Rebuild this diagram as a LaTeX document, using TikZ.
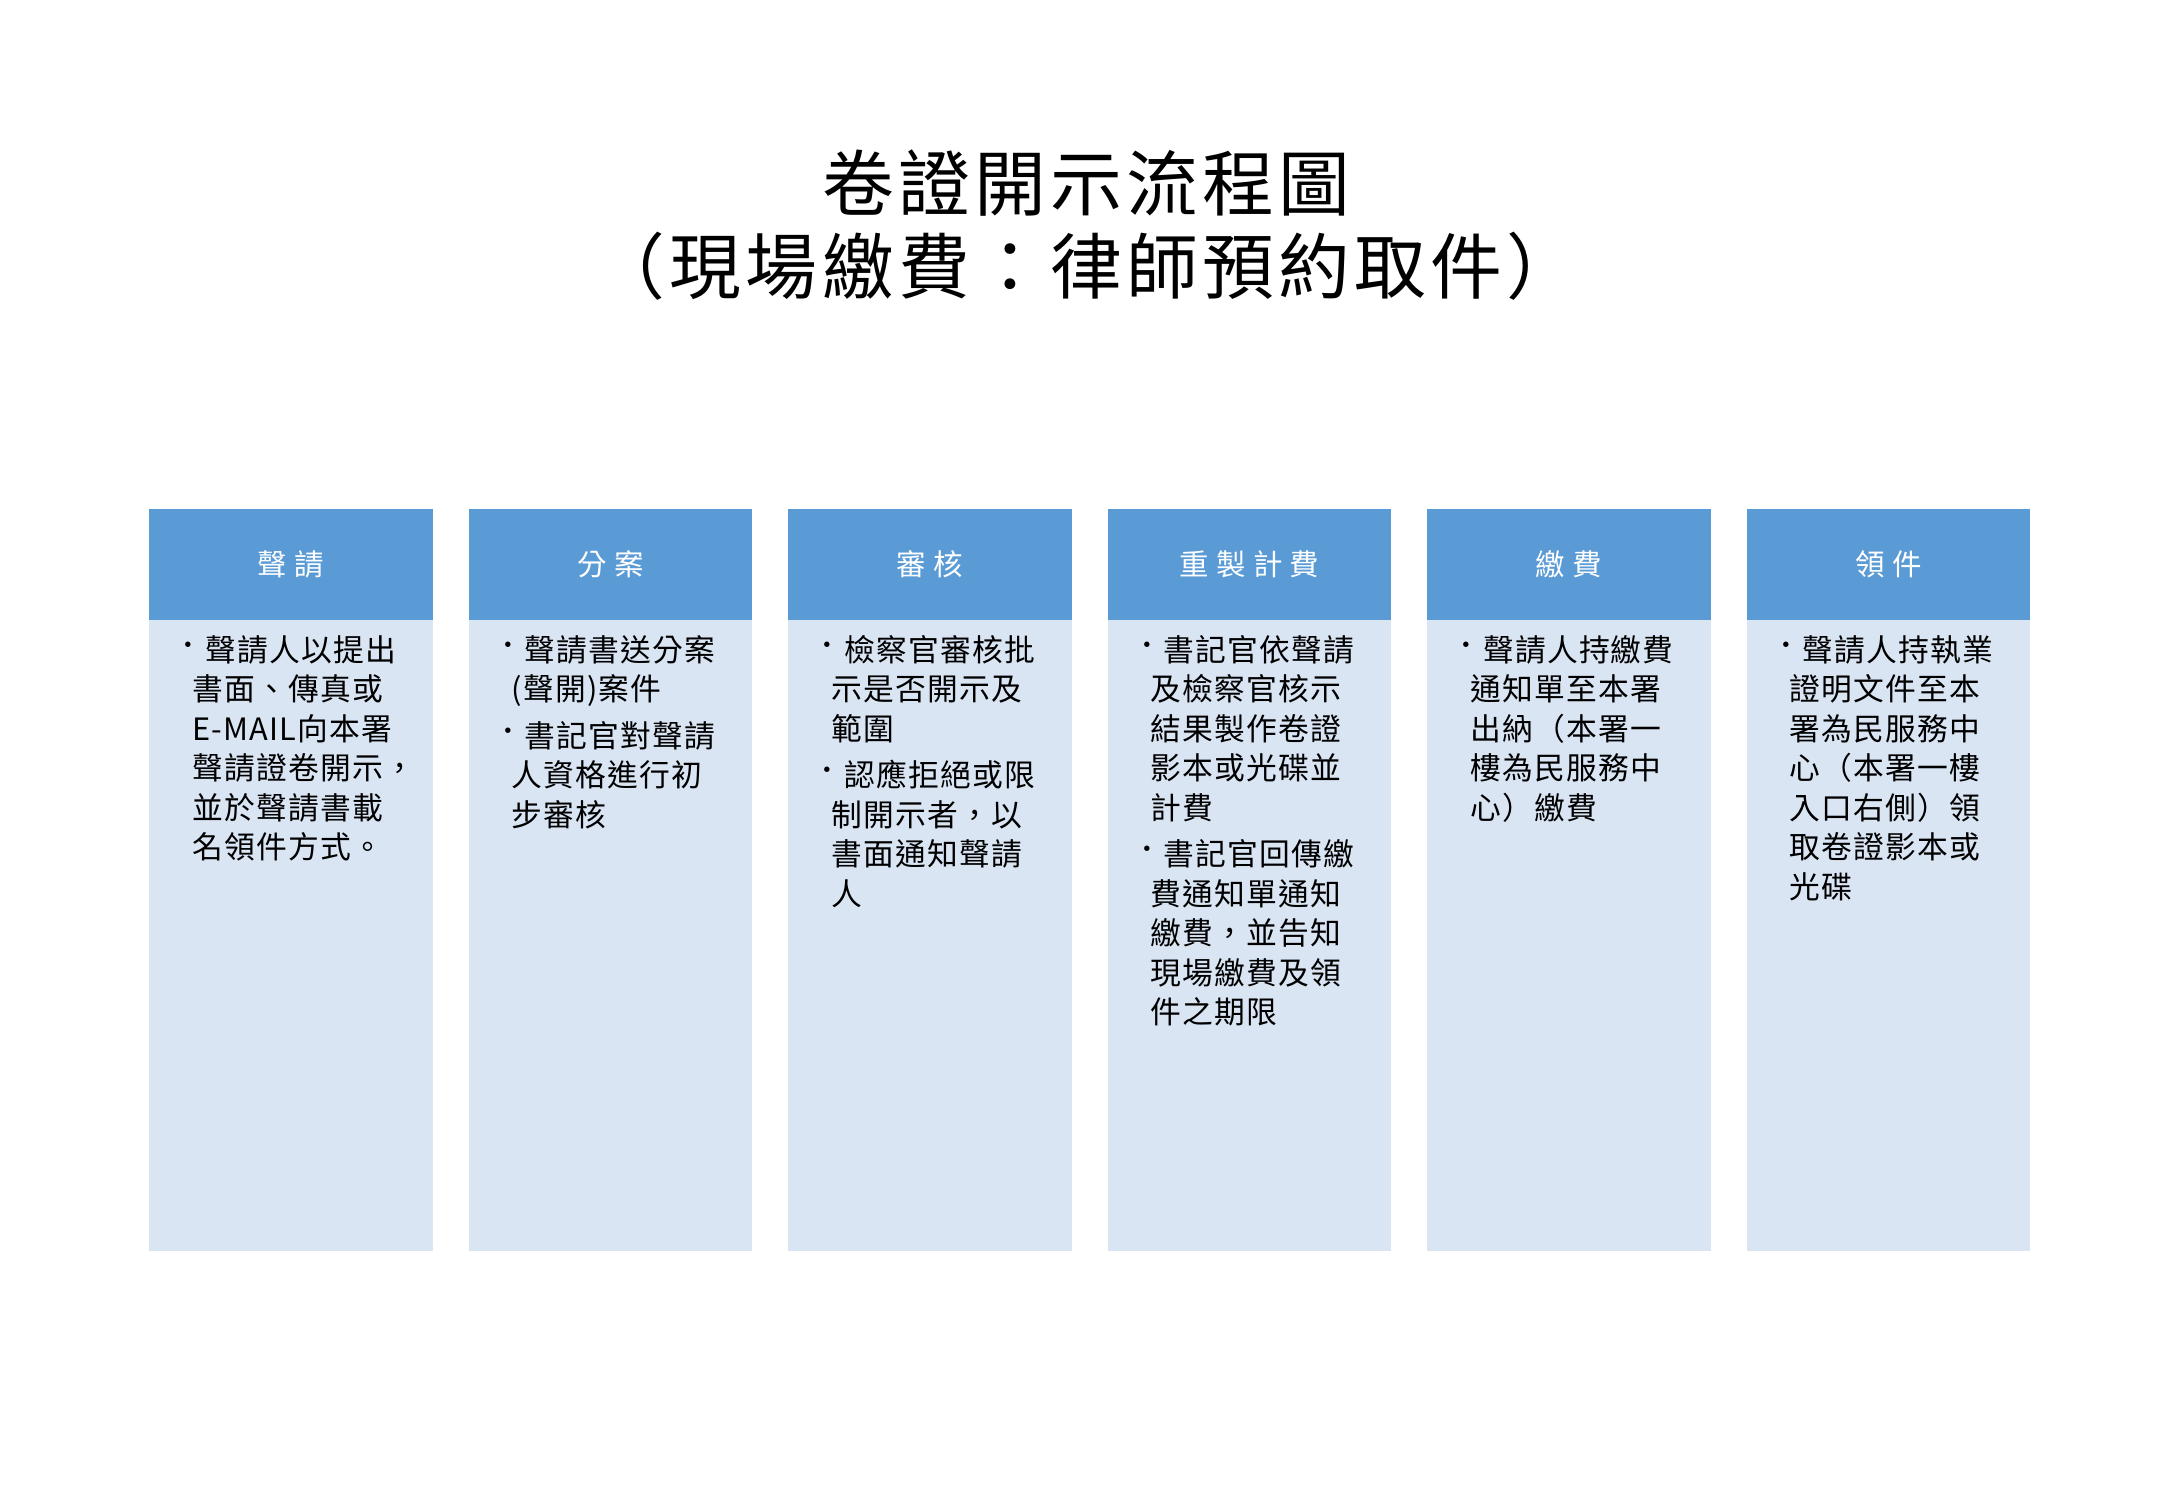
\documentclass[tikz,border=0pt]{standalone}
\usepackage{fontspec}
\newfontfamily\cjk[LetterSpace=4]{Noto Sans CJK TC}
\newfontfamily\cjktitle[LetterSpace=6]{Noto Sans CJK TC}
\newfontfamily\cjkhead[LetterSpace=25]{Noto Sans CJK TC}
\definecolor{headblue}{HTML}{5B9BD5}
\definecolor{bodyblue}{HTML}{DAE5F4}
\begin{document}
\begin{tikzpicture}[x=0.019038cm,y=-0.019038cm,
  headbox/.style={fill=headblue,draw=none,minimum width=204*0.019038cm,minimum height=80*0.019038cm,inner sep=0pt,text=white,font=\cjkhead\fontsize{11.5pt}{14pt}\selectfont,anchor=north west},
  bodybox/.style={fill=bodyblue,draw=none,minimum width=204*0.019038cm,minimum height=454*0.019038cm,inner sep=0pt,anchor=north west},
  btext/.style={anchor=north west,inner sep=0pt,align=left,font=\cjk\fontsize{12pt}{15.4pt}\selectfont},
  bul/.style={anchor=north west,inner sep=0pt,font=\cjk\fontsize{10pt}{12pt}\selectfont},
  titletext/.style={align=center,font=\cjktitle\fontsize{28pt}{32pt}\selectfont}]
\fill[white] (0,0) rectangle (1560,1080);
\node[titletext] (title) at (782,162) {卷證開示流程圖\\（現場繳費：律師預約取件）};
\foreach \i/\h in {0/聲請,1/分案,2/審核,3/重製計費,4/繳費,5/領件}{
  \node[headbox] (h\i) at (107+230*\i,366) {\h};
  \node[bodybox] (b\i) at (107+230*\i,446) {};
}
% column 1
\node[bul] (u1) at (126,462) {•};
\node[btext] (t1) at (138,457) {\hspace{5pt}聲請人以提出\\書面、傳真或\\E-MAIL向本署\\聲請證卷開示，\\並於聲請書載\\名領件方式。};
% column 2
\node[bul] (u2a) at (356,462) {•};
\node[btext] (t2a) at (368,457) {\hspace{5pt}聲請書送分案\\(聲開)案件};
\node[bul] (u2b) at (356,524) {•};
\node[btext] (t2b) at (368,519) {\hspace{5pt}書記官對聲請\\人資格進行初\\步審核};
% column 3
\node[bul] (u3a) at (586,462) {•};
\node[btext] (t3a) at (598,457) {\hspace{5pt}檢察官審核批\\示是否開示及\\範圍};
\node[bul] (u3b) at (586,552) {•};
\node[btext] (t3b) at (598,547) {\hspace{5pt}認應拒絕或限\\制開示者，以\\書面通知聲請\\人};
% column 4
\node[bul] (u4a) at (816,462) {•};
\node[btext] (t4a) at (828,457) {\hspace{5pt}書記官依聲請\\及檢察官核示\\結果製作卷證\\影本或光碟並\\計費};
\node[bul] (u4b) at (816,609) {•};
\node[btext] (t4b) at (828,604) {\hspace{5pt}書記官回傳繳\\費通知單通知\\繳費，並告知\\現場繳費及領\\件之期限};
% column 5
\node[bul] (u5) at (1046,462) {•};
\node[btext] (t5) at (1058,457) {\hspace{5pt}聲請人持繳費\\通知單至本署\\出納（本署一\\樓為民服務中\\心）繳費};
% column 6
\node[bul] (u6) at (1276,462) {•};
\node[btext] (t6) at (1288,457) {\hspace{5pt}聲請人持執業\\證明文件至本\\署為民服務中\\心（本署一樓\\入口右側）領\\取卷證影本或\\光碟};
\end{tikzpicture}
\end{document}
